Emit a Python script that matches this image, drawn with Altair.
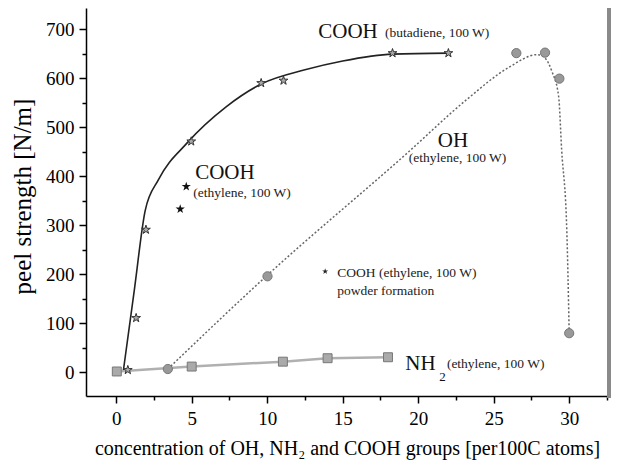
import altair as alt
import pandas as pd

# ---- data ----
coohb_x = [0.77, 1.32, 1.97, 4.97, 9.6, 11.08, 18.3, 22.0]
coohb_y = [5, 111, 291, 471, 590, 595, 651, 651]
coohb_fit_x = [0.48, 1.2, 1.92, 2.8, 4.7, 7.3, 9.6, 12.5, 15.0, 18.3, 22.0]
coohb_fit_y = [5, 168, 330, 393, 468, 542, 588, 617, 635, 649, 651]

coohe_x = [4.24, 4.64]
coohe_y = [333, 379]

oh_x = [3.42, 10.02, 26.5, 28.4, 29.35, 30.0]
oh_y = [7, 196, 651, 652, 599, 80]
oh_fit_x = [3.42, 10.0, 19.3, 23.2, 26.0, 27.9, 28.4, 28.85, 29.3, 29.5, 29.84, 30.0]
oh_fit_y = [7, 198, 448, 556, 622, 648, 641, 614, 563, 454, 291, 80]

nh2_x = [0.04, 5.0, 11.04, 14.0, 18.0]
nh2_y = [2, 12, 22, 29, 31]

x_major = [0, 5, 10, 15, 20, 25, 30]
x_minor = [2.5, 7.5, 12.5, 17.5, 22.5, 27.5, 32.5]
y_major = [0, 100, 200, 300, 400, 500, 600, 700]
y_minor = [50, 150, 250, 350, 450, 550, 650]

big_labels = ["COOH", "COOH", "OH", "NH"]
big_x = [13.38, 5.23, 22.3, 19.14]
big_y = [694, 407, 472, 18]
big_align = ["left", "left", "center", "left"]

small_labels = ["(butadiene, 100 W)", "(ethylene, 100 W)", "(ethylene, 100 W)",
                "COOH (ethylene, 100 W)", "powder formation", "(ethylene, 100 W)"]
small_x = [17.8, 5.1, 22.6, 14.64, 14.64, 21.9]
small_y = [692, 366, 438, 203, 166, 18]
small_align = ["left", "left", "center", "left", "left", "left"]

sub_labels = ["2"]
sub_x = [21.4]
sub_y = [-9]

note_star_x = [13.84]
note_star_y = [206]

W, H = 522, 388
FONT = "'Liberation Serif', 'Times New Roman', serif"
STAR = ("M0,-1L0.2245,-0.309L0.951,-0.309L0.363,0.118L0.588,0.809L0,0.382"
        "L-0.588,0.809L-0.363,0.118L-0.951,-0.309L-0.2245,-0.309Z")

xs = alt.Scale(domain=[-2, 32.57], nice=False, zero=False)
ys = alt.Scale(domain=[-48, 743], nice=False, zero=False)

xax = alt.Axis(values=x_major, orient="bottom",
               title="concentration of OH, NH\u2082 and COOH groups [per100C atoms]",
               grid=False, tickSize=7, labelFontSize=19, labelPadding=6,
               titleFontSize=20, titleFontWeight="normal", titlePadding=10,
               domainColor="black", tickColor="black", domainWidth=1.5, tickWidth=1.5,
               labelColor="black", titleColor="black", labelFont=FONT, titleFont=FONT)
yax = alt.Axis(values=y_major, orient="left",
               title="peel strength [N/m]", grid=False, tickSize=7,
               labelFontSize=19, labelPadding=5, titleFontSize=25, titleFontWeight="normal",
               titleX=-64, titleY=H / 2 - 6, titleBaseline="middle", titleAngle=270,
               domainColor="black", tickColor="black", domainWidth=1.5, tickWidth=1.5,
               labelColor="black", titleColor="black", labelFont=FONT, titleFont=FONT)
xmin_ax = alt.Axis(values=x_minor, orient="bottom", labels=False, domain=False, grid=False,
                   tickSize=4, tickWidth=1.5, tickColor="black", title=None)
ymin_ax = alt.Axis(values=y_minor, orient="left", labels=False, domain=False, grid=False,
                   tickSize=4, tickWidth=1.5, tickColor="black", title=None)

X = alt.X("x:Q", scale=xs, axis=None)
Y = alt.Y("y:Q", scale=ys, axis=None)

def df(x, y):
    return pd.DataFrame({"x": x, "y": y})

axes_layer = alt.Chart(df(nh2_x, nh2_y)).mark_line(color="#b0b0b0", strokeWidth=2.5).encode(
    x=alt.X("x:Q", scale=xs, axis=xax), y=alt.Y("y:Q", scale=ys, axis=yax))
minor_layer = alt.Chart(df(nh2_x, nh2_y)).mark_point(opacity=0).encode(
    x=alt.X("x:Q", scale=xs, axis=xmin_ax), y=alt.Y("y:Q", scale=ys, axis=ymin_ax))
oh_line = alt.Chart(df(oh_fit_x, oh_fit_y)).mark_line(
    color="#666", strokeWidth=1.5, strokeDash=[2, 2], interpolate="monotone").encode(x=X, y=Y)
cb_line = alt.Chart(df(coohb_fit_x, coohb_fit_y)).mark_line(
    color="#222", strokeWidth=1.6, interpolate="monotone").encode(x=X, y=Y)

nh2_pts = alt.Chart(df(nh2_x, nh2_y)).mark_point(
    shape="square", size=80, filled=True, fill="#aaa", stroke="#777", strokeWidth=1, opacity=1).encode(x=X, y=Y)
oh_pts = alt.Chart(df(oh_x, oh_y)).mark_point(
    shape="circle", size=85, filled=True, fill="#999", stroke="#777", strokeWidth=1, opacity=1).encode(x=X, y=Y)
cb_pts = alt.Chart(df(coohb_x, coohb_y)).mark_point(
    shape=STAR, size=85, filled=True, fill="#aaa", stroke="#333", strokeWidth=1, opacity=1).encode(x=X, y=Y)
ce_pts = alt.Chart(df(coohe_x, coohe_y)).mark_point(
    shape=STAR, size=95, filled=True, fill="#111", opacity=1).encode(x=X, y=Y)
note_pt = alt.Chart(df(note_star_x, note_star_y)).mark_point(
    shape=STAR, size=40, filled=True, fill="#222", opacity=1).encode(x=X, y=Y)

bl = pd.DataFrame({"x": big_x, "y": big_y, "t": big_labels, "a": big_align})
sl = pd.DataFrame({"x": small_x, "y": small_y, "t": small_labels, "a": small_align})
su = pd.DataFrame({"x": sub_x, "y": sub_y, "t": sub_labels})

big_l = alt.Chart(bl[bl.a == "left"].reset_index(drop=True)).mark_text(
    font=FONT, fontSize=21, align="left", baseline="middle", color="#111").encode(x=X, y=Y, text="t:N")
big_c = alt.Chart(bl[bl.a == "center"].reset_index(drop=True)).mark_text(
    font=FONT, fontSize=21, align="center", baseline="middle", color="#111").encode(x=X, y=Y, text="t:N")
small_l = alt.Chart(sl[sl.a == "left"].reset_index(drop=True)).mark_text(
    font=FONT, fontSize=13.5, align="left", baseline="middle", color="#222").encode(x=X, y=Y, text="t:N")
small_c = alt.Chart(sl[sl.a == "center"].reset_index(drop=True)).mark_text(
    font=FONT, fontSize=13.5, align="center", baseline="middle", color="#222").encode(x=X, y=Y, text="t:N")
sub_t = alt.Chart(su).mark_text(
    font=FONT, fontSize=13, align="left", baseline="middle", color="#111").encode(x=X, y=Y, text="t:N")

bar = alt.Chart(pd.DataFrame({"k": [0]})).mark_rule(color="#8a8a8a", strokeWidth=4).encode(
    x=alt.value(W + 1), y=alt.value(0), y2=alt.value(H + 2))

chart = alt.layer(axes_layer, minor_layer, oh_line, cb_line, nh2_pts, oh_pts, cb_pts, ce_pts, note_pt,
                  big_l, big_c, small_l, small_c, sub_t, bar).resolve_axis(
    x="independent", y="independent").properties(
    width=W, height=H, autosize=alt.AutoSizeParams(type="none"),
    padding={"left": 78, "top": 0, "right": 3, "bottom": 67},
    background="white",
).configure_view(stroke=None)

chart.save("out.html", embed_options={"renderer": "svg", "actions": False})
